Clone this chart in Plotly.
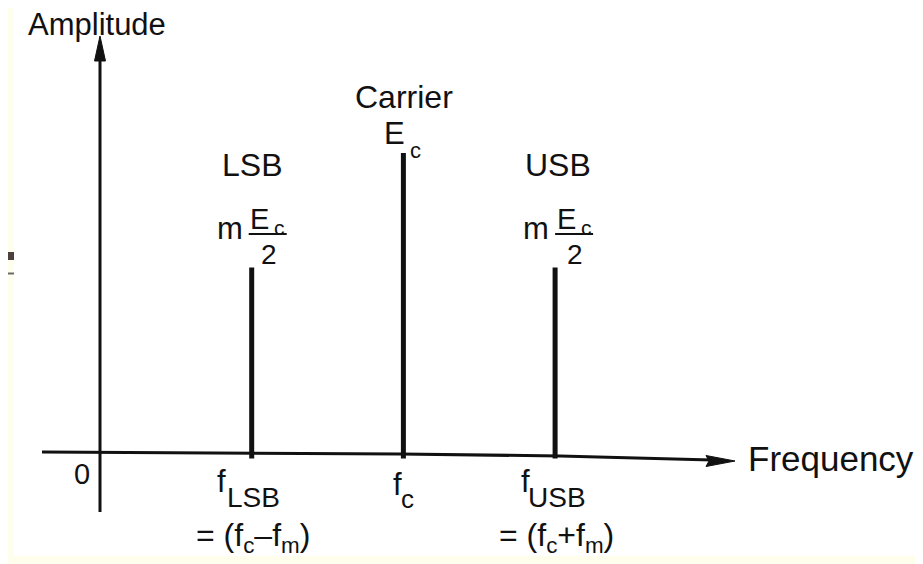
import plotly.graph_objects as go

# ---- data ----
components = ["LSB", "Carrier", "USB"]
freq_pos = [1, 2, 3]                 # f_LSB, f_c, f_USB (in units of f_m spacing, origin at 0)
amplitude = [0.62, 1.0, 0.62]        # relative amplitude (carrier = Ec = 1)
freq_main = ["f", "f", "f"]
freq_sub = ["LSB", "c", "USB"]
freq_eq = ["= (f<sub>c</sub>–f<sub>m</sub>)", "", "= (f<sub>c</sub>+f<sub>m</sub>)"]
origin_label = "0"
x_title = "Frequency"
y_title = "Amplitude"

# ---- pixel <-> data mapping ----
# the page body has an 8px default margin, so the figure covers window pixels [8, 923] x [8, 564]
WIN_W, WIN_H, OFF = 923, 564, 8
W, H = WIN_W - OFF, WIN_H - OFF
X0PX, UX = 100.0, 151.7
Y0PX, UY = 454.0, 301.0
def dx(px): return (px - X0PX) / UX
def dy(py): return (Y0PX - py) / UY
def px_of(x): return X0PX + x * UX

FONT = "Liberation Sans, Arial, Helvetica, sans-serif"
INK = "#111111"

fig = go.Figure()

# spectral lines
for f, a, name in zip(freq_pos, amplitude, components):
    fig.add_trace(go.Scatter(x=[f, f], y=[-0.015, a], mode="lines",
                             line=dict(color=INK, width=5), name=name,
                             hoverinfo="skip", showlegend=False))

shapes = []
ann = []

def text(px, py, s, size, xanchor="center"):
    ann.append(dict(x=dx(px), y=dy(py), xref="x", yref="y", text=s, showarrow=False,
                    xanchor=xanchor, yanchor="middle",
                    font=dict(family=FONT, size=size, color=INK)))

def rect(x0, y0, x1, y1, color):
    shapes.append(dict(type="rect", xref="x", yref="y", x0=dx(x0), x1=dx(x1), y0=dy(y1), y1=dy(y0),
                       fillcolor=color, line=dict(width=0), layer="below"))

# background artifacts of the scanned page
rect(0, 0, 14, WIN_H, "#fffdeb")
rect(0, 556, WIN_W, WIN_H, "#fffdeb")
rect(0, 252, 14, 260, "#4b423f")
rect(0, 272.5, 14, 274.5, "#6e6866")

# vertical (amplitude) axis with arrow
shapes.append(dict(type="line", xref="x", yref="y", x0=0, x1=0, y0=dy(512), y1=dy(55),
                   line=dict(color=INK, width=3)))
shapes.append(dict(type="path", xref="x", yref="y",
                   path=f"M {dx(100)},{dy(36)} L {dx(105.5)},{dy(61)} L {dx(94.5)},{dy(61)} Z",
                   fillcolor=INK, line=dict(color=INK, width=1)))
# horizontal (frequency) axis with arrow
shapes.append(dict(type="path", xref="x", yref="y",
                   path=f"M {dx(42)},{dy(452)} L {dx(400)},{dy(454)} L {dx(560)},{dy(456)} L {dx(712)},{dy(460)}",
                   line=dict(color=INK, width=3)))
shapes.append(dict(type="path", xref="x", yref="y",
                   path=f"M {dx(735)},{dy(461)} L {dx(706)},{dy(455.5)} L {dx(709)},{dy(461)} L {dx(706)},{dy(466.5)} Z",
                   fillcolor=INK, line=dict(color=INK, width=1)))

# axis titles
text(97, 24, y_title, 31)
text(831, 458, x_title, 35)
text(82, 474, origin_label, 29)

# component labels above lines
for f, a, name in zip(freq_pos, amplitude, components):
    sx = px_of(f)
    if name == "Carrier":
        text(sx + 1, 97, name, 32)
        text(sx - 9, 133, "E", 31)
        text(sx + 12, 150, "c", 22)
    else:
        off = 0 if name == "LSB" else 3
        text(sx + off, 165, name, 32)
        text(sx + off - 22, 228, "m", 31)
        text(sx + off + 8, 219, "E", 29)
        text(sx + off + 28, 227, "c", 21)
        shapes.append(dict(type="line", xref="x", yref="y",
                           x0=dx(sx + off - 3), x1=dx(sx + off + 35), y0=dy(234), y1=dy(234),
                           line=dict(color=INK, width=2)))
        text(sx + off + 17, 254, "2", 28)

# frequency labels below axis
for f, m, s, e in zip(freq_pos, freq_main, freq_sub, freq_eq):
    sx = px_of(f)
    if s == "c":
        text(sx - 6, 484, m, 31)
        text(sx + 4, 499, s, 26)
    else:
        text(sx - 30, 481, m, 31)
        text(sx + 2, 497, s, 28)
    if e:
        text(sx + 1, 537, e, 32)

fig.update_layout(
    width=W, height=H,
    margin=dict(l=0, r=0, t=0, b=0),
    paper_bgcolor="white", plot_bgcolor="white",
    xaxis=dict(range=[dx(OFF), dx(WIN_W)], visible=False, fixedrange=True),
    yaxis=dict(range=[dy(WIN_H), dy(OFF)], visible=False, fixedrange=True),
    shapes=shapes, annotations=ann, showlegend=False,
)

fig.write_html("out.html")
